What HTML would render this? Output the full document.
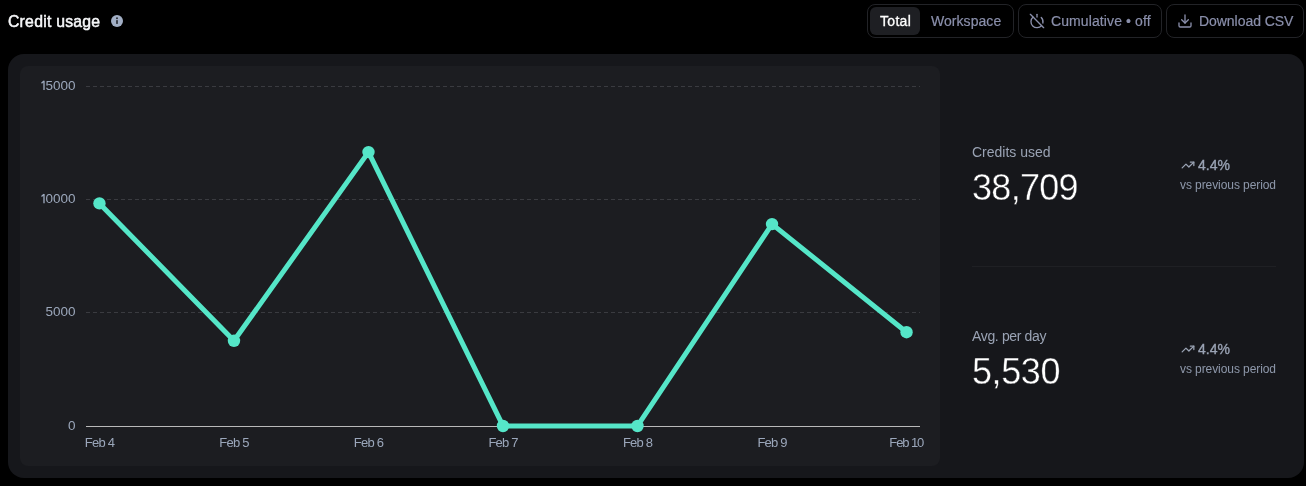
<!DOCTYPE html>
<html>
<head>
<meta charset="utf-8">
<style>
*{box-sizing:border-box;margin:0;padding:0}
html,body{width:1306px;height:486px;background:#000;overflow:hidden}
body{position:relative;font-family:"Liberation Sans",sans-serif;color:#fff}
.abs{position:absolute;white-space:nowrap;will-change:transform}
.title{left:8px;top:11px;font-size:15.75px;line-height:21px;letter-spacing:0.25px;-webkit-text-stroke:0.5px #f6f7f9;color:#f6f7f9}
.seg{left:867px;top:4px;width:147px;height:34px;border:1px solid #222327;border-radius:8px}
.pill{left:870px;top:7px;width:50px;height:28px;border-radius:6px;background:#1e1f23}
.btn{top:4px;height:34px;border:1px solid #222327;border-radius:8px}
.t14{font-size:14px;line-height:20px}
.muted{color:#8a8fab;-webkit-text-stroke:0.2px #8a8fab}
.card{left:8px;top:54px;width:1296px;height:424px;border-radius:16px;background:#16171b}
.inner{left:20px;top:66px;width:920px;height:400px;border-radius:8px;background:#1c1d21}
.lbl{font-size:14px;line-height:20px;color:#9aa3b4}
.big{font-size:36px;line-height:40px;letter-spacing:-1px;color:#fff;-webkit-text-stroke:0.4px #16171b}
.pct{font-size:14px;line-height:18px;color:#9aa3b4;-webkit-text-stroke:0.35px #9aa3b4}
.vs{font-size:12px;line-height:16px;letter-spacing:-0.08px;color:#8e98ab}
.div{left:972px;top:266px;width:304px;height:1px;background:#1f2024}
</style>
</head>
<body>
<div class="abs title">Credit usage</div>
<svg class="abs" style="left:111px;top:15px" width="12" height="12" viewBox="0 0 12 12">
  <circle cx="6" cy="6" r="6" fill="#a2afc5"/>
  <circle cx="6" cy="3.3" r="0.95" fill="#23262d"/>
  <rect x="5.2" y="5.1" width="1.6" height="3.8" rx="0.4" fill="#23262d"/>
</svg>

<div class="abs seg"></div>
<div class="abs pill"></div>
<div class="abs t14" style="left:880px;top:11px;color:#fff;letter-spacing:0.3px;-webkit-text-stroke:0.3px #fff">Total</div>
<div class="abs t14 muted" style="left:931px;top:11px;letter-spacing:0.05px">Workspace</div>

<div class="abs btn" style="left:1018px;width:144px"></div>
<svg class="abs" style="left:1029px;top:13px" width="16" height="16" viewBox="0 0 24 24" fill="none" stroke="#8a8fab" stroke-width="2" stroke-linecap="round" stroke-linejoin="round">
  <path d="M18.36 6.64A9 9 0 0 1 20.77 15"/>
  <path d="M6.16 6.16a9 9 0 1 0 12.68 12.68"/>
  <path d="M12 2v4"/>
  <path d="m2 2 20 20"/>
</svg>
<div class="abs t14 muted" style="left:1051px;top:11px;letter-spacing:0.1px">Cumulative • off</div>

<div class="abs btn" style="left:1166px;width:138px"></div>
<svg class="abs" style="left:1177px;top:13px" width="16" height="16" viewBox="0 0 24 24" fill="none" stroke="#8a8fab" stroke-width="2" stroke-linecap="round" stroke-linejoin="round">
  <path d="M21 15v4a2 2 0 0 1-2 2H5a2 2 0 0 1-2-2v-4"/>
  <polyline points="7 10 12 15 17 10"/>
  <line x1="12" x2="12" y1="15" y2="3"/>
</svg>
<div class="abs t14 muted" style="left:1199px;top:11px;letter-spacing:-0.05px">Download CSV</div>

<div class="abs card"></div>
<div class="abs inner"></div>

<svg class="abs" style="left:0;top:0" width="1306" height="486" viewBox="0 0 1306 486">
  <g stroke="#3a3b40" stroke-width="1" stroke-dasharray="4 3" fill="none">
    <line x1="86" y1="86.5" x2="920" y2="86.5"/>
    <line x1="86" y1="199.5" x2="920" y2="199.5"/>
    <line x1="86" y1="312.5" x2="920" y2="312.5"/>
  </g>
  <line x1="86" y1="426.5" x2="920" y2="426.5" stroke="#b9b9b9" stroke-width="1"/>
  <g font-family="Liberation Sans" font-size="13.5" fill="#9ba7bb">
    <text x="45.47" y="90">5000</text>
    <text x="45.47" y="203.2">0000</text>
    <text x="45.47" y="316.3">5000</text>
    <text x="68" y="430">0</text>
  </g>
  <path d="M41.5 83.2 L43.9 81.1 M44 80.7 V90 M41.5 196.4 L43.9 194.3 M44 193.9 V203.2" stroke="#9ba7bb" stroke-width="1.35" fill="none"/>
  <g font-family="Liberation Sans" font-size="13" letter-spacing="-0.8" fill="#9ba7bb" text-anchor="middle">
    <text x="99.45" y="447">Feb 4</text>
    <text x="233.97" y="447">Feb 5</text>
    <text x="368.48" y="447">Feb 6</text>
    <text x="503" y="447">Feb 7</text>
    <text x="637.5" y="447">Feb 8</text>
    <text x="772.03" y="447">Feb 9</text>
    <text x="906.3" y="447" letter-spacing="-1.1">Feb 10</text>
  </g>
  <polyline fill="none" stroke="#55e6c8" stroke-width="5" stroke-linejoin="round" stroke-linecap="round"
    points="99.45,203.4 233.97,340.8 368.48,152.1 503,425.9 637.5,425.9 772.03,224.1 906.55,332.2"/>
  <g fill="#55e6c8">
    <circle cx="99.45" cy="203.4" r="6.2"/>
    <circle cx="233.97" cy="340.8" r="6.2"/>
    <circle cx="368.48" cy="152.1" r="6.2"/>
    <circle cx="503" cy="426" r="6.2"/>
    <circle cx="637.5" cy="426" r="6.2"/>
    <circle cx="772.03" cy="224.1" r="6.2"/>
    <circle cx="906.55" cy="332.2" r="6.2"/>
  </g>
</svg>

<div class="abs lbl" style="left:972px;top:142px">Credits used</div>
<div class="abs big" style="left:972px;top:168px;letter-spacing:-0.7px">38,709</div>
<svg class="abs" style="left:1181px;top:158px" width="14" height="14" viewBox="0 0 24 24" fill="none" stroke="#9aa3b4" stroke-width="2.2" stroke-linecap="round" stroke-linejoin="round">
  <polyline points="22 7 13.5 15.5 8.5 10.5 2 17"/>
  <polyline points="16 7 22 7 22 13"/>
</svg>
<div class="abs pct" style="left:1198px;top:156px">4.4%</div>
<div class="abs vs" style="left:1180px;top:177px">vs previous period</div>

<div class="abs div"></div>

<div class="abs lbl" style="left:972px;top:326px;letter-spacing:-0.35px">Avg. per day</div>
<div class="abs big" style="left:972px;top:352px;letter-spacing:-0.4px">5,530</div>
<svg class="abs" style="left:1181px;top:342px" width="14" height="14" viewBox="0 0 24 24" fill="none" stroke="#9aa3b4" stroke-width="2.2" stroke-linecap="round" stroke-linejoin="round">
  <polyline points="22 7 13.5 15.5 8.5 10.5 2 17"/>
  <polyline points="16 7 22 7 22 13"/>
</svg>
<div class="abs pct" style="left:1198px;top:340px">4.4%</div>
<div class="abs vs" style="left:1180px;top:361px">vs previous period</div>
</body>
</html>
